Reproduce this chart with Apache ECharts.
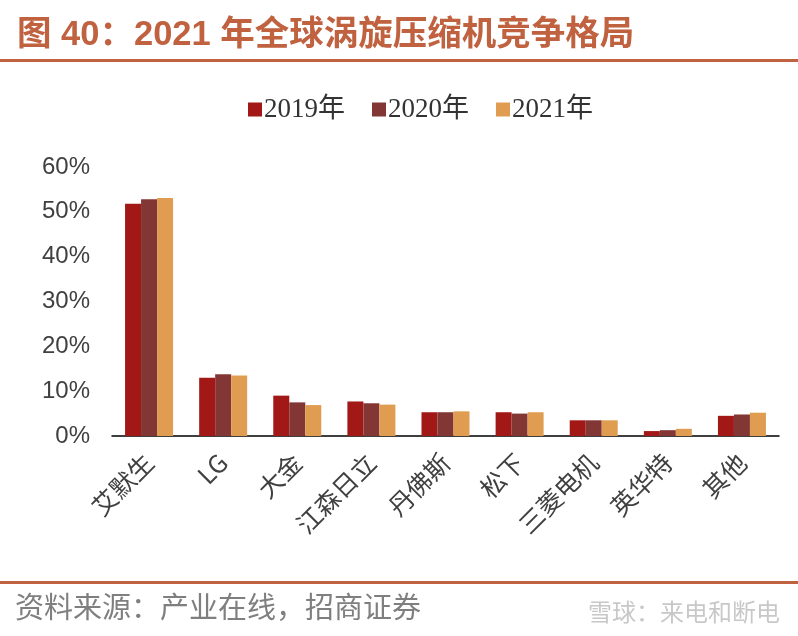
<!DOCTYPE html>
<html>
<head>
<meta charset="utf-8">
<script src="https://cdn.jsdelivr.net/npm/echarts@6/dist/echarts.min.js"></script>
<style>
html,body{margin:0;padding:0;background:#fff;}
#c{width:798px;height:636px;}
</style>
</head>
<body>
<div id="c"></div>
<script>
const categories = ['艾默生','LG','大金','江森日立','丹佛斯','松下','三菱电机','英华特','其他'];
const seriesNames = ['2019年','2020年','2021年'];
const v2019 = [51.8, 13.0, 9.0, 7.7, 5.3, 5.3, 3.5, 1.1, 4.5];
const v2020 = [52.8, 13.8, 7.5, 7.3, 5.3, 5.0, 3.5, 1.3, 4.8];
const v2021 = [53.1, 13.5, 6.9, 7.0, 5.5, 5.3, 3.5, 1.6, 5.2];
const colors = ['#A11816','#833735','#E09D52'];

const chart = echarts.init(document.getElementById('c'));
const allVals = [v2019, v2020, v2021];
chart.setOption({
  animation: false,
  backgroundColor: '#fff',
  title: [{
    text: '图 40：2021 年全球涡旋压缩机竞争格局',
    left: 12, top: 13,
    textStyle: {color: '#C0613F', fontSize: 34.5, fontWeight: 'bold', fontFamily: 'Liberation Sans, Noto Sans CJK SC'}
  },{
    text: '资料来源：产业在线，招商证券',
    left: 10, top: 587,
    textStyle: {color: '#7f7f7f', fontSize: 29, fontWeight: 'normal', fontFamily: 'Noto Sans CJK SC'}
  },{
    text: '雪球：来电和断电',
    left: 583, top: 595,
    textStyle: {color: '#c8c8c8', fontSize: 24, fontWeight: 'normal', fontFamily: 'Noto Sans CJK SC'}
  }],
  graphic: [
    {type: 'rect', shape: {x: 0, y: 59, width: 798, height: 3}, style: {fill: '#C0613F'}},
    {type: 'rect', shape: {x: 0, y: 581, width: 798, height: 3}, style: {fill: '#C0613F'}}
  ],
  legend: {
    top: 91, left: 243,
    itemWidth: 14, itemHeight: 14, itemGap: 27,
    icon: 'rect',
    textStyle: {fontSize: 27, color: '#333', fontFamily: 'Liberation Serif, Noto Sans CJK SC', padding: [0,0,0,-3]},
    data: seriesNames
  },
  grid: {left: 112, right: 19, top: 167, bottom: 200, containLabel: false},
  xAxis: {
    type: 'category',
    data: categories,
    axisLine: {lineStyle: {color: '#000', width: 1.5}},
    axisTick: {inside: true, length: 7, lineStyle: {color: '#000', width: 1.5}},
    axisLabel: {rotate: 45, fontSize: 25, color: '#404040', margin: 22, fontFamily: 'Noto Sans CJK SC', interval: 0}
  },
  yAxis: {
    type: 'value', min: 0, max: 60, interval: 10,
    axisLine: {show: false},
    axisTick: {show: false},
    splitLine: {show: false},
    axisLabel: {formatter: '{value}%', fontSize: 24, color: '#404040', margin: 22, fontFamily: 'Liberation Sans'}
  },
  series: seriesNames.map((n, i) => ({
    name: n, type: 'bar', data: allVals[i],
    barWidth: 16, barGap: '0%',
    itemStyle: {color: colors[i]}
  }))
});
</script>
</body>
</html>
